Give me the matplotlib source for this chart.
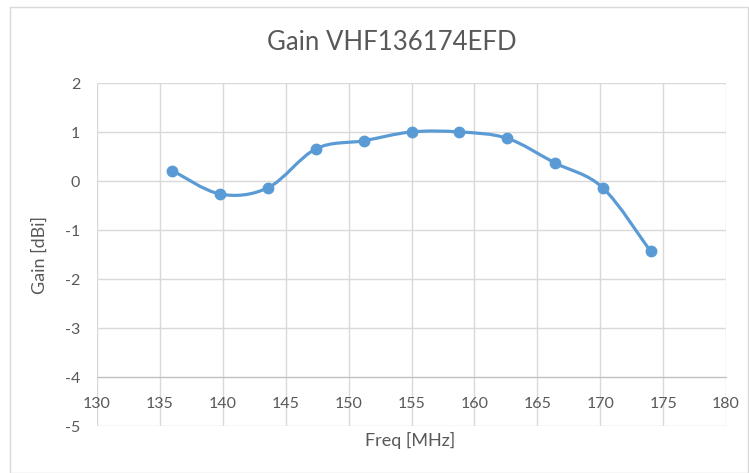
import numpy as np
import matplotlib
matplotlib.use("Agg")
import matplotlib.pyplot as plt
from matplotlib.path import Path
from matplotlib.patches import PathPatch, Rectangle

plt.rcParams['font.family'] = ['Lato', 'DejaVu Sans']
plt.rcParams['axes.unicode_minus'] = False

# measured gain vs frequency
freq = [136.0, 139.8, 143.6, 147.4, 151.2, 155.0, 158.8, 162.6, 166.4, 170.2, 174.0]
gain = [0.22, -0.26, -0.13, 0.665, 0.83, 1.01, 1.01, 0.88, 0.377, -0.13, -1.43]

x_ticks = [130, 135, 140, 145, 150, 155, 160, 165, 170, 175, 180]
y_ticks = [-5, -4, -3, -2, -1, 0, 1, 2]

blue = '#5b9bd5'
grid = '#d9d9d9'
txt = '#595959'

fig = plt.figure(figsize=(7.49, 4.73), dpi=100)
ax = fig.add_axes([97 / 749, 47 / 473, 629 / 749, 342.5 / 473])

ax.set_xlim(130, 180)
ax.set_ylim(-5, 2)
ax.set_xticks(x_ticks)
ax.set_yticks(y_ticks)
ax.grid(True, color=grid, linewidth=1.0)
ax.set_axisbelow(True)

for s in ['top', 'right', 'left']:
    ax.spines[s].set_visible(False)
# x axis crosses at -4 like the Excel chart
ax.spines['bottom'].set_position(('data', -4))
ax.spines['bottom'].set_color('#bfbfbf')
ax.tick_params(length=0, labelsize=11.5, colors=txt)
ax.tick_params(axis='x', pad=14)
ax.tick_params(axis='y', pad=12)

# smoothed line (Catmull-Rom style bezier, as Excel does)
pts = np.column_stack([freq, gain])
verts = [pts[0]]
codes = [Path.MOVETO]
n = len(pts)
for i in range(n - 1):
    p0 = pts[max(i - 1, 0)]
    p1 = pts[i]
    p2 = pts[i + 1]
    p3 = pts[min(i + 2, n - 1)]
    c1 = p1 + (p2 - p0) / 6.0
    c2 = p2 - (p3 - p1) / 6.0
    verts += [c1, c2, p2]
    codes += [Path.CURVE4] * 3
ax.add_patch(PathPatch(Path(verts, codes), facecolor='none', edgecolor=blue,
                       linewidth=2.3, capstyle='round', joinstyle='round'))
ax.plot(freq, gain, 'o', color=blue, markersize=7.5, zorder=3)

fig.text(392 / 749, 1 - 42 / 473, 'Gain VHF136174EFD', ha='center', va='center',
         fontsize=18.5, color=txt)
fig.text(410 / 749, 1 - 440 / 473, 'Freq [MHz]', ha='center', va='center',
         fontsize=13, color=txt)
fig.text(40 / 749, 1 - 255 / 473, 'Gain [dBi]', ha='center', va='center',
         rotation=90, fontsize=13, color=txt)

# chart border
fig.patches.append(Rectangle((10 / 749, 0.5 / 473), 738 / 749, 465 / 473,
                             transform=fig.transFigure, fill=False,
                             edgecolor=grid, linewidth=1.0))

fig.savefig('out.png', dpi=100)
